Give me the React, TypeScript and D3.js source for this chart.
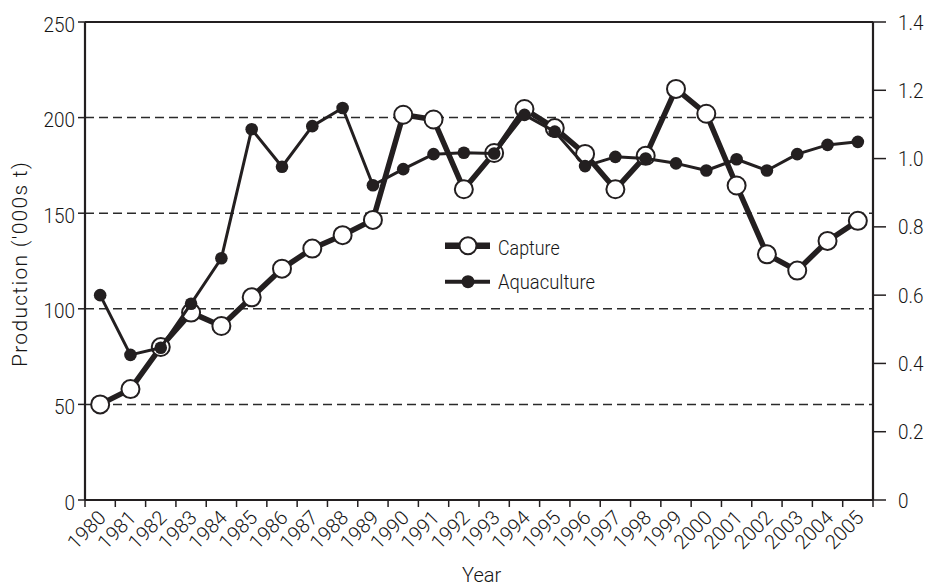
import React from 'react';
import * as d3 from 'd3';

const years = [1980, 1981, 1982, 1983, 1984, 1985, 1986, 1987, 1988, 1989, 1990, 1991, 1992, 1993, 1994, 1995, 1996, 1997, 1998, 1999, 2000, 2001, 2002, 2003, 2004, 2005];
const capture = [50, 58, 80, 98, 91, 106, 121, 131.5, 138.5, 146.5, 201.5, 199, 162.5, 181.5, 204.5, 194.5, 181, 162.5, 180, 215, 202, 164.5, 128.5, 120, 135.5, 146];
const aquaculture = [0.6, 0.425, 0.446, 0.575, 0.708, 1.086, 0.976, 1.095, 1.148, 0.922, 0.969, 1.013, 1.017, 1.015, 1.128, 1.079, 0.978, 1.005, 1.0, 0.986, 0.965, 0.998, 0.965, 1.013, 1.04, 1.049];
const leftTicks = [0, 50, 100, 150, 200, 250];
const rightTicks = [0, 0.2, 0.4, 0.6, 0.8, 1.0, 1.2, 1.4];
const gridValues = [50, 100, 150, 200];
const seriesNames = ['Capture', 'Aquaculture'];

const INK = '#231f20';
const TXT = '#151515';
const FONT = 'Roboto, "Liberation Sans", Arial, sans-serif';

function T({ x, y, rot = 0, sx = 1, size = 20, anchor = 'start', children, ls = 0 }: any) {
  return (
    <text
      transform={`translate(${x},${y}) rotate(${rot}) scale(${sx},1)`}
      fontSize={size}
      fontFamily={FONT}
      fontWeight={300}
      fill={TXT}
      textAnchor={anchor}
      letterSpacing={ls}
    >
      {children}
    </text>
  );
}

export default function App() {
  const W = 934, H = 585;
  const L = 85, R = 873, TOP = 22, BOT = 500;
  const x = d3.scaleBand<number>().domain(years).range([L, R]).padding(0);
  const cx = (yr: number) => (x(yr) as number) + x.bandwidth() / 2;
  const yL = d3.scaleLinear().domain([0, 250]).range([BOT, TOP]);
  const yR = d3.scaleLinear().domain([0, 1.4]).range([BOT, TOP]);

  const capPath = d3.line<number>().x((_, i) => cx(years[i])).y((d) => yL(d))(capture) || '';
  const aquaPath = d3.line<number>().x((_, i) => cx(years[i])).y((d) => yR(d))(aquaculture) || '';
  const edges = [...years.map((yr) => x(yr) as number), R];

  return (
    <svg width={W} height={H} style={{ position: 'absolute', left: 0, top: 0, background: '#fff' }}>
      <rect x={0} y={0} width={W} height={H} fill="#fff" />
      {gridValues.map((v) => (
        <line key={v} x1={L} x2={R} y1={yL(v)} y2={yL(v)} stroke="#2a2a2a" strokeWidth={1.5} strokeDasharray="9,5" />
      ))}
      <line x1={L} x2={R} y1={TOP} y2={TOP} stroke={INK} strokeWidth={2} />
      <line x1={L} x2={L} y1={TOP} y2={BOT} stroke={INK} strokeWidth={2.2} />
      <line x1={R} x2={R} y1={TOP} y2={BOT} stroke={INK} strokeWidth={2.2} />
      <line x1={L} x2={R} y1={BOT} y2={BOT} stroke={INK} strokeWidth={2.2} />
      {leftTicks.map((v) => (
        <g key={v}>
          <line x1={L - 7} x2={L} y1={yL(v)} y2={yL(v)} stroke={INK} strokeWidth={1.5} />
          <T x={75} y={yL(v) + 9.5} anchor="end" size={21} sx={0.9}>{String(v)}</T>
        </g>
      ))}
      {rightTicks.map((v) => (
        <g key={v}>
          <line x1={R} x2={R + 13} y1={yR(v)} y2={yR(v)} stroke={INK} strokeWidth={1.5} />
          <T x={898} y={yR(v) + 7.5} anchor="start" size={21} sx={0.9}>{v === 0 ? '0' : v.toFixed(1)}</T>
        </g>
      ))}
      {edges.map((e, i) => (
        <line key={i} x1={e} x2={e} y1={BOT} y2={BOT + 7} stroke={INK} strokeWidth={1.5} />
      ))}
      {years.map((yr) => (
        <T key={yr} x={cx(yr) + 7} y={519} rot={-45} anchor="end" size={20}>{String(yr)}</T>
      ))}
      <T x={481.7} y={581.5} anchor="middle" size={20}>Year</T>
      <T x={26.7} y={264} rot={-90} anchor="middle" size={21} sx={1} ls={1.3}>Production ('000s t)</T>

      <path d={capPath} fill="none" stroke={INK} strokeWidth={5.5} strokeLinejoin="round" />
      {capture.map((v, i) => (
        <circle key={i} cx={cx(years[i])} cy={yL(v)} r={9} fill="#fff" stroke={INK} strokeWidth={2} />
      ))}
      <path d={aquaPath} fill="none" stroke={INK} strokeWidth={3} strokeLinejoin="round" />
      {aquaculture.map((v, i) => (
        <circle key={i} cx={cx(years[i])} cy={yR(v)} r={6.3} fill={INK} />
      ))}

      <line x1={445} x2={490} y1={245.7} y2={245.7} stroke={INK} strokeWidth={6.5} />
      <circle cx={468} cy={245.7} r={8.5} fill="#fff" stroke={INK} strokeWidth={2} />
      <T x={498} y={255} size={21} sx={0.85}>{seriesNames[0]}</T>
      <line x1={445} x2={490} y1={281.7} y2={281.7} stroke={INK} strokeWidth={4} />
      <circle cx={468} cy={281.7} r={6.5} fill={INK} />
      <T x={498} y={289} size={20} sx={0.92}>{seriesNames[1]}</T>
    </svg>
  );
}
